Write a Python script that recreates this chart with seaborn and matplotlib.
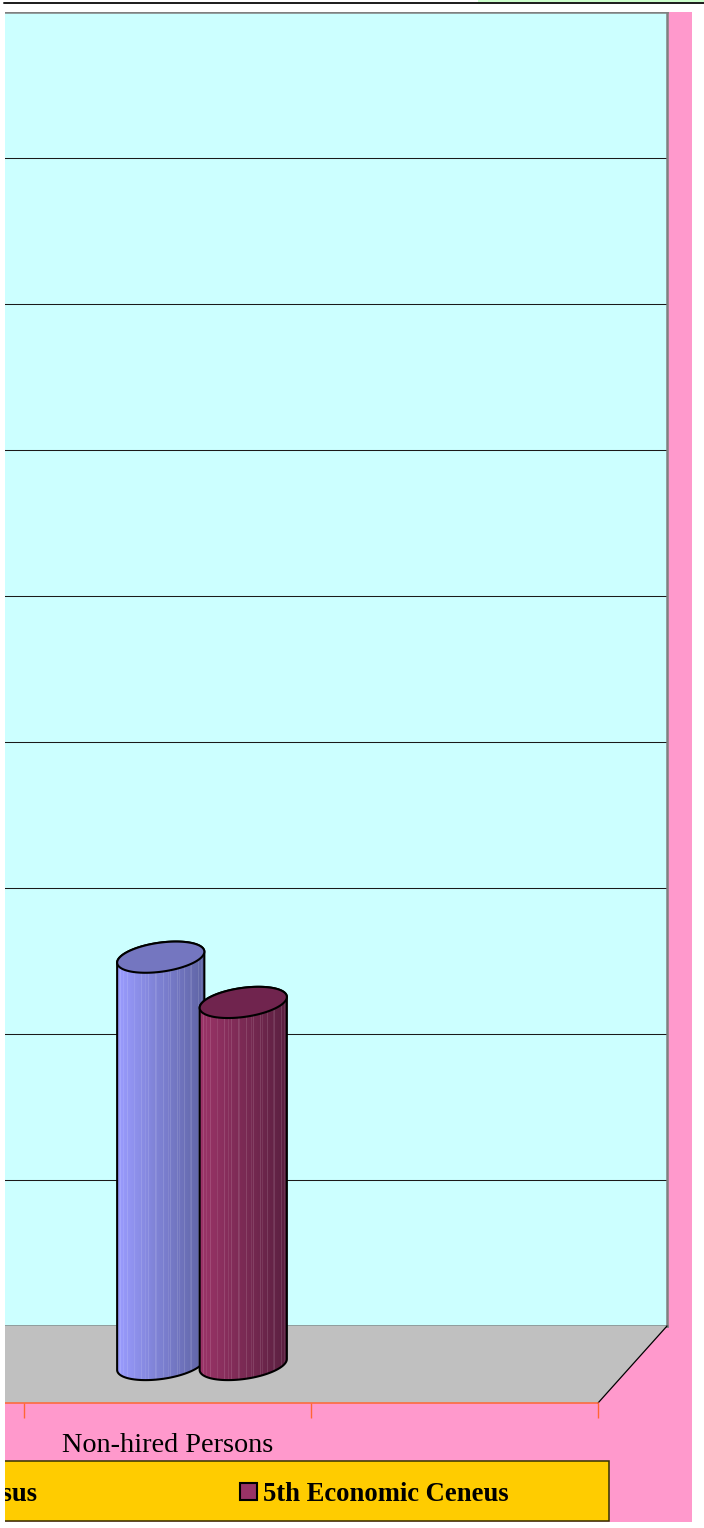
import numpy as np
import pandas as pd
import matplotlib
matplotlib.use("Agg")
import matplotlib.pyplot as plt
import seaborn as sns
from matplotlib.patches import Rectangle, Polygon, Patch
from matplotlib.lines import Line2D
from matplotlib.transforms import IdentityTransform

# ---- data -------------------------------------------------------------
categories = ["Non-hired Persons"]
series = ["4th Economic Census", "5th Economic Ceneus"]
persons_4th = [279]
persons_5th = [248]
value_ticks = [0, 100, 200, 300, 400, 500, 600, 700, 800, 900]

# ---- style ------------------------------------------------------------
sns.set_theme(style="white")
plt.rcParams["font.family"] = ["Liberation Serif", "DejaVu Serif"]
plt.rcParams["text.color"] = "black"
plt.rcParams["xtick.labelcolor"] = "black"

BLUE, MAROON = "#9999FF", "#993366"
BODY_SHADES = {series[0]: ("#9A9CFF", "#5F64A4", "#7476C0"),
               series[1]: ("#9B3468", "#5A2040", "#70244E")}
PINK, WALL, FLOOR = "#FF99CC", "#CCFFFF", "#C0C0C0"
ORANGE, GOLD = "#FF6633", "#FFCC00"

W, H = 704, 1528
fig = plt.figure(figsize=(W / 100, H / 100), dpi=100, facecolor="white")


def frac(left, top, width, height):
    return [left / W, 1 - (top + height) / H, width / W, height / H]


# 3-D box geometry (pixels): back wall and its projected floor depth
WALL_L, WALL_T, WALL_W, WALL_H = 4, 12, 663, 1314
DEPTH_DX, DEPTH_DY = -69, 77
BAR_DEPTH = 0.5
BAR_PAD = 60
CAT_PX = 287
XMAX = 1.5
XMIN = XMAX - WALL_W / CAT_PX
YMAX = value_ticks[-1]
ppu = WALL_H / YMAX

# chart area background
fig.add_artist(Rectangle((5 / W, 1 - 1522 / H), 687 / W, 1510 / H,
                         transform=fig.transFigure, facecolor=PINK,
                         edgecolor="none", zorder=-5))

# back wall with gridlines
ax_wall = fig.add_axes(frac(WALL_L, WALL_T, WALL_W, WALL_H))
ax_wall.set_zorder(-4)
ax_wall.set_facecolor(WALL)
ax_wall.set_xlim(XMIN, XMAX)
ax_wall.set_ylim(0, YMAX)
ax_wall.set_yticks(value_ticks)
ax_wall.set_xticks([])
ax_wall.grid(axis="y", color="#1a1a1a", linewidth=0.75)
ax_wall.tick_params(left=False, labelleft=False, bottom=False, labelbottom=False)
for side in ("top", "right", "bottom"):
    ax_wall.spines[side].set_color("#808080")
    ax_wall.spines[side].set_linewidth(1.8)
ax_wall.spines["left"].set_visible(False)

# front edge of the floor carries the category axis
ax_front = fig.add_axes(frac(WALL_L + DEPTH_DX, WALL_T + DEPTH_DY, WALL_W, WALL_H))
ax_front.set_zorder(-2)
ax_front.patch.set_visible(False)
ax_front.set_xlim(XMIN, XMAX)
ax_front.set_ylim(0, YMAX)
ax_front.set_yticks([])
ax_front.set_xticks(np.arange(-0.5, XMAX + 0.01, 1.0))
ax_front.set_xticks(range(len(categories)), labels=categories, minor=True)
ax_front.tick_params(axis="x", which="both", bottom=True)
ax_front.tick_params(axis="x", which="major", length=11, width=1.0,
                     color=ORANGE, direction="out", labelbottom=False)
ax_front.tick_params(axis="x", which="minor", length=0, pad=21.5,
                     labelsize=20.3, labelcolor="black")
for side in ("top", "right", "left"):
    ax_front.spines[side].set_visible(False)
ax_front.spines["bottom"].set_color(ORANGE)
ax_front.spines["bottom"].set_linewidth(1.1)
ax_front.spines["bottom"].set_bounds(XMIN - 1, XMAX)

# floor between back wall and front edge
bl = ax_wall.transData.transform((XMIN, 0))
br = ax_wall.transData.transform((XMAX, 0))
fr = ax_front.transData.transform((XMAX, 0))
fl = ax_front.transData.transform((XMIN - 1, 0))
fig.add_artist(Polygon([bl, br, fr, fl], closed=True, transform=IdentityTransform(),
                       facecolor=FLOOR, edgecolor="none", zorder=-3))
fig.add_artist(Line2D([br[0], fr[0]], [br[1], fr[1]], transform=IdentityTransform(),
                      color="black", linewidth=0.9, zorder=-3))

# bars stand halfway between wall and front edge
ax_bar = fig.add_axes(frac(WALL_L + DEPTH_DX * BAR_DEPTH, WALL_T + DEPTH_DY * BAR_DEPTH,
                           WALL_W, WALL_H + BAR_PAD))
ax_bar.set_zorder(-1)
ax_bar.patch.set_visible(False)

df = pd.DataFrame({
    "Category": categories * 2,
    "Census": [series[0]] * len(categories) + [series[1]] * len(categories),
    "Persons": persons_4th + persons_5th,
})
sns.barplot(data=df, x="Category", y="Persons", hue="Census", hue_order=series,
            palette=[BLUE, MAROON], width=0.575, saturation=1, legend=False, ax=ax_bar)
ax_bar.set_xlim(XMIN, XMAX)
ax_bar.set_ylim(-BAR_PAD / ppu, YMAX)
ax_bar.autoscale(False)

OVERLAP = 1.066
ELLIPSE_H = 29
TILT = np.radians(8)


def body_image(left, right, n):
    l = np.array(matplotlib.colors.to_rgb(left))
    r = np.array(matplotlib.colors.to_rgb(right))
    t = np.linspace(0, 1, n)[:, None]
    cols = (1 - t) * l + t * r
    stripes = np.zeros(n)
    stripes[3::7] = 1
    stripes[6::11] = 0.7
    cols = cols + stripes[:, None] * 0.12 * (1 - cols)
    return np.clip(cols[None, :, :], 0, 1)


def draw_cylinder(ax, bar, shades, z):
    T = ax.transData
    x0, y0 = T.transform((bar.get_x(), bar.get_y()))
    x1, y1 = T.transform((bar.get_x() + bar.get_width(), bar.get_y() + bar.get_height()))
    cx = (x0 + x1) / 2
    a = (x1 - x0) * OVERLAP / 2
    b = ELLIPSE_H / 2

    def ring(t, yc):
        return np.column_stack([
            cx + a * np.cos(t) * np.cos(TILT) - b * np.sin(t) * np.sin(TILT),
            yc + a * np.cos(t) * np.sin(TILT) + b * np.sin(t) * np.cos(TILT)])

    t_r = np.arctan(-(b / a) * np.tan(TILT))
    t_l = t_r + np.pi
    bottom = ring(np.linspace(t_l, t_r + 2 * np.pi, 90), y0)
    top_back = ring(np.linspace(t_r, t_l, 90), y1)
    body = np.vstack([bottom, top_back])
    body_patch = Polygon(body, closed=True, transform=IdentityTransform(),
                         facecolor="none", edgecolor="black", linewidth=1.5,
                         zorder=z + 0.2)
    ax.add_patch(body_patch)

    inv = T.inverted()
    (dx0, dy0) = inv.transform((body[:, 0].min(), body[:, 1].min()))
    (dx1, dy1) = inv.transform((body[:, 0].max(), body[:, 1].max()))
    n = int(round(body[:, 0].max() - body[:, 0].min()))
    ax.imshow(body_image(shades[0], shades[1], n), extent=(dx0, dx1, dy0, dy1),
              aspect="auto", interpolation="nearest", zorder=z,
              clip_path=body_patch)

    top = ring(np.linspace(0, 2 * np.pi, 180), y1)
    ax.add_patch(Polygon(top, closed=True, transform=IdentityTransform(),
                         facecolor=shades[2], edgecolor="black", linewidth=1.5,
                         zorder=z + 0.4))


z = 2
for name, container in zip(series, ax_bar.containers):
    for bar in container:
        if np.isfinite(bar.get_height()):
            draw_cylinder(ax_bar, bar, BODY_SHADES[name], z)
        bar.set_visible(False)
    z += 1
ax_bar.set_xlim(XMIN, XMAX)
ax_bar.set_ylim(-BAR_PAD / ppu, YMAX)
ax_bar.set_axis_off()

# legend on a gold strip
fig.add_artist(Rectangle((-400 / W, 1 - 1521 / H), 1009 / W, 60 / H,
                         transform=fig.transFigure, facecolor=GOLD,
                         edgecolor="#333300", linewidth=1.1, zorder=4))
handles = [Patch(facecolor=BLUE, edgecolor="black", linewidth=1.5),
           Patch(facecolor=MAROON, edgecolor="black", linewidth=1.5)]
fig.legend(handles, series, ncol=2, loc="center left",
           bbox_to_anchor=(-230 / W, 1 - 1494.5 / H), frameon=False,
           prop={"weight": "bold", "size": 19.2}, labelcolor="black",
           handlelength=0.637, handleheight=0.603, handletextpad=0.225,
           columnspacing=7.6, borderpad=0, borderaxespad=0)

# surrounding sheet: white margins, cell border line above the chart
fig.add_artist(Rectangle((0, 0), 5 / W, 1, transform=fig.transFigure,
                         facecolor="white", edgecolor="none", zorder=20))
fig.add_artist(Rectangle((0, 1 - 12 / H), 1, 12 / H, transform=fig.transFigure,
                         facecolor="white", edgecolor="none", zorder=20))
fig.add_artist(Rectangle((478 / W, 1 - 2 / H), 226 / W, 2 / H, transform=fig.transFigure,
                         facecolor="#CCFFCC", edgecolor="none", zorder=21))
fig.add_artist(Line2D([4 / W, 1], [1 - 2.8 / H, 1 - 2.8 / H], transform=fig.transFigure,
                      color="#1a1a1a", linewidth=1.4, zorder=21))

fig.savefig("out.png", dpi=100, facecolor="white")
